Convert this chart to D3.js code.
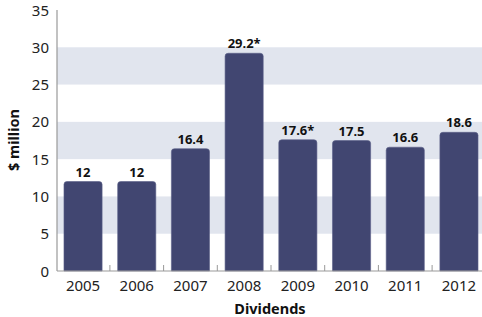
<!DOCTYPE html>
<html><head><meta charset="utf-8">
<script src="https://cdn.jsdelivr.net/npm/d3@7"></script>
<style>body{margin:0;background:#fff;}svg{display:block;font-family:"Noto Sans",sans-serif;}</style>
</head><body>
<script>
const years = ["2005","2006","2007","2008","2009","2010","2011","2012"];
const values = [12, 12, 16.4, 29.2, 17.6, 17.5, 16.6, 18.6];
const valueLabels = ["12","12","16.4","29.2*","17.6*","17.5","16.6","18.6"];
const yTicks = [0,5,10,15,20,25,30,35];
const bands = [[5,10],[15,20],[25,30]];

const W = 482, H = 317;
const svg = d3.select("body").append("svg").attr("width", W).attr("height", H);
const x = d3.scaleBand().domain(years).range([57, 485]).paddingInner(0.29).paddingOuter(0.13);
const y = d3.scaleLinear().domain([0, 35]).range([271, 10]);

svg.selectAll("rect.band").data(bands).enter().append("rect")
  .attr("x", 57).attr("width", W - 57)
  .attr("y", d => y(d[1])).attr("height", d => y(d[0]) - y(d[1]))
  .attr("fill", "#e1e5ee");

const r = 3;
svg.selectAll("path.bar").data(values).enter().append("path")
  .attr("d", (d, i) => {
    const x0 = x(years[i]), w = x.bandwidth(), y0 = y(d), yb = y(0);
    return `M${x0},${yb}V${y0 + r}Q${x0},${y0} ${x0 + r},${y0}H${x0 + w - r}Q${x0 + w},${y0} ${x0 + w},${y0 + r}V${yb}Z`;
  })
  .attr("fill", "#414671").attr("stroke", "#5a5f88").attr("stroke-width", 0.6);

svg.selectAll("text.val").data(values).enter().append("text")
  .attr("x", (d, i) => x(years[i]) + x.bandwidth() / 2)
  .attr("y", d => y(d) - 5)
  .attr("text-anchor", "middle").attr("font-size", 13).attr("font-weight", "bold").attr("fill", "#111")
  .text((d, i) => valueLabels[i]);

// axes
svg.append("line").attr("x1", 57).attr("x2", 57).attr("y1", 10).attr("y2", 271).attr("stroke", "#999").attr("stroke-width", 1.2);
svg.append("line").attr("x1", 57).attr("x2", W).attr("y1", 271).attr("y2", 271).attr("stroke", "#999").attr("stroke-width", 1.2);

// x ticks between bars
const step = x.step();
svg.selectAll("line.xt").data(years.slice(1)).enter().append("line")
  .attr("x1", d => x(d) - (step - x.bandwidth()) / 2).attr("x2", d => x(d) - (step - x.bandwidth()) / 2)
  .attr("y1", 265).attr("y2", 271).attr("stroke", "#999").attr("stroke-width", 1);

svg.selectAll("text.xl").data(years).enter().append("text")
  .attr("x", d => x(d) + x.bandwidth() / 2).attr("y", 291)
  .attr("text-anchor", "middle").attr("font-size", 15).attr("fill", "#222").text(d => d);

svg.selectAll("text.yl").data(yTicks).enter().append("text")
  .attr("x", 49).attr("y", d => y(d) + 5.5)
  .attr("text-anchor", "end").attr("font-size", 15).attr("fill", "#222").text(d => d);

svg.append("text").attr("x", 270).attr("y", 314).attr("text-anchor", "middle")
  .attr("font-size", 14.5).attr("font-weight", "bold").attr("fill", "#111").text("Dividends");

svg.append("text").attr("transform", "translate(19,140) rotate(-90)").attr("text-anchor", "middle")
  .attr("font-size", 14.5).attr("font-weight", "bold").attr("fill", "#111").text("$ million");
</script>
</body></html>
